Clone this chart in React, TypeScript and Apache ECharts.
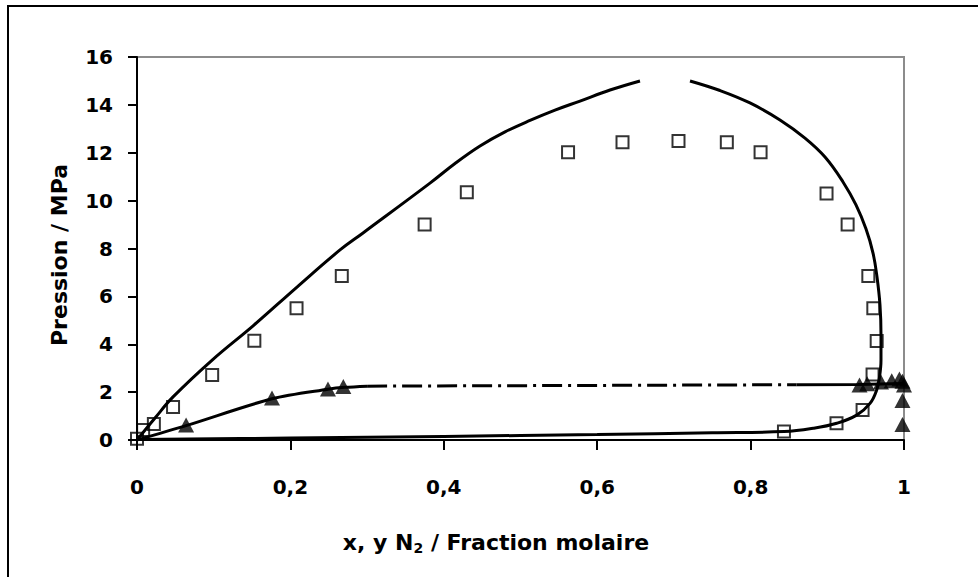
import React, { useEffect, useRef } from "react";
import * as echarts from "echarts";

// Experimental points (open squares)
const squareX = [0, 0.008, 0.022, 0.047, 0.098, 0.153, 0.208, 0.267, 0.375, 0.43, 0.562, 0.633, 0.706, 0.769, 0.813, 0.899, 0.9265, 0.9535, 0.96, 0.9644, 0.959, 0.946, 0.912, 0.8435];
const squareP = [0.05, 0.42, 0.67, 1.38, 2.72, 4.15, 5.5, 6.85, 9.0, 10.35, 12.02, 12.44, 12.49, 12.44, 12.02, 10.3, 9.0, 6.85, 5.5, 4.14, 2.74, 1.25, 0.7, 0.35];

// Experimental points (filled triangles)
const triX = [0.064, 0.176, 0.249, 0.269, 0.942, 0.952, 0.97, 0.984, 0.994, 0.998, 1.0, 0.998, 0.998];
const triP = [0.63, 1.75, 2.13, 2.23, 2.3, 2.35, 2.42, 2.47, 2.55, 2.45, 2.3, 1.65, 0.65];

// Calculated envelope, left (dew) branch
const leftX = [0, 0.0235, 0.047, 0.098, 0.1525, 0.2086, 0.2647, 0.2947, 0.382, 0.4146, 0.4472, 0.4798, 0.5124, 0.545, 0.5776, 0.6167, 0.6558];
const leftP = [0, 0.92, 1.8, 3.34, 4.8, 6.39, 7.94, 8.65, 10.73, 11.55, 12.28, 12.87, 13.35, 13.78, 14.16, 14.62, 15.0];

// Calculated envelope, right branch and bubble line
const rightX = [0.721, 0.7601, 0.7992, 0.8383, 0.8709, 0.897, 0.9205, 0.9374, 0.9505, 0.9596, 0.9648, 0.9687, 0.97, 0.97, 0.9681, 0.9644, 0.9557, 0.9383, 0.9123, 0.8817, 0.8436, 0.75, 0.6, 0.4, 0.2, 0];
const rightP = [15.0, 14.6, 14.08, 13.37, 12.61, 11.82, 10.78, 9.82, 8.81, 7.81, 6.81, 5.64, 4.39, 3.34, 2.63, 2.09, 1.53, 1.04, 0.7, 0.49, 0.35, 0.3, 0.23, 0.15, 0.08, 0.02];

// Three-phase line: solid start, dash-dot middle, solid end
const triLineX = [0, 0.064, 0.176, 0.249, 0.271, 0.3];
const triLineP = [0, 0.6, 1.72, 2.12, 2.2, 2.25];
const dashX = [0.3, 0.6, 0.86];
const dashP = [2.25, 2.28, 2.31];
const endX = [0.86, 0.94, 1.0];
const endP = [2.31, 2.32, 2.36];

const xTicks = { min: 0, max: 1, interval: 0.2 };
const yTicks = { min: 0, max: 16, interval: 2 };

const zip = (xs: number[], ys: number[]) => xs.map((x, i) => [x, ys[i]]);

const FONT = '"DejaVu Sans", sans-serif';

export default function App() {
  const ref = useRef<HTMLDivElement>(null);
  useEffect(() => {
    if (!ref.current) return;
    const chart = echarts.init(ref.current, null, { renderer: "svg" });
    const lineBase = {
      type: "line" as const,
      showSymbol: false,
      symbol: "none",
      lineStyle: { color: "#000", width: 3 },
      z: 3,
    };
    chart.setOption({
      animation: false,
      backgroundColor: "#fff",
      grid: {
        left: 137,
        top: 57,
        right: 74,
        bottom: 137,
        show: true,
        borderColor: "#8c8c8c",
        borderWidth: 2,
        backgroundColor: "transparent",
      },
      xAxis: {
        type: "value",
        min: xTicks.min,
        max: xTicks.max,
        interval: xTicks.interval,
        axisLine: { show: true, onZero: false, lineStyle: { color: "#000", width: 2 } },
        axisTick: { show: true, length: 10, lineStyle: { color: "#000", width: 2 } },
        splitLine: { show: false },
        axisLabel: {
          color: "#000",
          fontWeight: "bold",
          fontFamily: FONT,
          fontSize: 20,
          margin: 37,
          formatter: (v: number) => String(Math.round(v * 10) / 10).replace(".", ","),
        },
      },
      yAxis: {
        type: "value",
        min: yTicks.min,
        max: yTicks.max,
        interval: yTicks.interval,
        axisLine: { show: true, lineStyle: { color: "#000", width: 2 } },
        axisTick: { show: true, length: 9, lineStyle: { color: "#000", width: 2 } },
        splitLine: { show: false },
        axisLabel: {
          color: "#000",
          fontWeight: "bold",
          fontFamily: FONT,
          fontSize: 20,
          margin: 24,
        },
      },
      graphic: [
        {
          type: "rect",
          silent: true,
          shape: { x: 8, y: 6, width: 1200, height: 1200 },
          style: { fill: "none", stroke: "#000", lineWidth: 2 },
        },
        {
          type: "text",
          x: 59,
          y: 255,
          rotation: Math.PI / 2,
          style: {
            text: "Pression / MPa",
            font: `bold 22px ${FONT}`,
            fill: "#000",
            align: "center",
            verticalAlign: "middle",
          },
        },
        {
          type: "text",
          x: 496,
          y: 542,
          style: {
            text: "x, y N{sub|2} / Fraction molaire",
            font: `bold 22px ${FONT}`,
            fill: "#000",
            align: "center",
            verticalAlign: "middle",
            rich: {
              sub: {
                font: `bold 14px ${FONT}`,
                fill: "#000",
                verticalAlign: "bottom",
                padding: [12, 0, 0, 0],
              },
            },
          },
        },
      ],
      series: [
        { ...lineBase, name: "dew", data: zip(leftX, leftP), smooth: 0.4 },
        { ...lineBase, name: "right", data: zip(rightX, rightP), smooth: 0.4 },
        { ...lineBase, name: "threephase", data: zip(triLineX, triLineP), smooth: 0.3 },
        {
          ...lineBase,
          name: "dash",
          data: zip(dashX, dashP),
          lineStyle: { color: "#000", width: 3, type: [20, 6, 3, 6] },
        },
        { ...lineBase, name: "end", data: zip(endX, endP) },
        {
          type: "scatter",
          name: "squares",
          data: zip(squareX, squareP),
          symbol: "rect",
          symbolSize: 12,
          itemStyle: { color: "rgba(255,255,255,0)", borderColor: "#000", borderWidth: 2 },
          z: 4,
        },
        {
          type: "scatter",
          name: "triangles",
          data: zip(triX, triP),
          symbol: "triangle",
          symbolSize: [16, 15],
          itemStyle: { color: "#000" },
          z: 5,
        },
      ],
    });
    return () => chart.dispose();
  }, []);
  return (
    <div
      ref={ref}
      style={{ position: "absolute", left: 0, top: 0, width: 978, height: 577, background: "#fff" }}
    />
  );
}
